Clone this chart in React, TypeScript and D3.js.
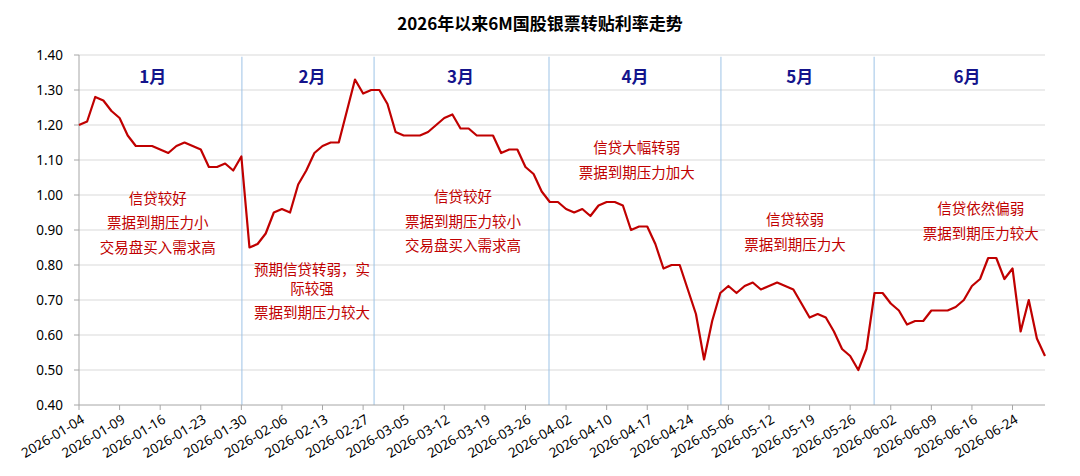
import React from "react";
import * as d3 from "d3";

const W = 1080;
const H = 476;

// 6M国股银票转贴利率, one value per trading day (index 0 = 2026-01-04)
const rates = [
  1.2, 1.21, 1.28, 1.27, 1.24, 1.22, 1.17, 1.14, 1.14, 1.14,
  1.13, 1.12, 1.14, 1.15, 1.14, 1.13, 1.08, 1.08, 1.09, 1.07,
  1.11, 0.85, 0.86, 0.89, 0.95, 0.96, 0.95, 1.03, 1.07, 1.12,
  1.14, 1.15, 1.15, 1.24, 1.33, 1.29, 1.3, 1.3, 1.26, 1.18,
  1.17, 1.17, 1.17, 1.18, 1.2, 1.22, 1.23, 1.19, 1.19, 1.17,
  1.17, 1.17, 1.12, 1.13, 1.13, 1.08, 1.06, 1.01, 0.98, 0.98,
  0.96, 0.95, 0.96, 0.94, 0.97, 0.98, 0.98, 0.97, 0.9, 0.91,
  0.91, 0.86, 0.79, 0.8, 0.8, 0.73, 0.66, 0.53, 0.64, 0.72,
  0.74, 0.72, 0.74, 0.75, 0.73, 0.74, 0.75, 0.74, 0.73, 0.69,
  0.65, 0.66, 0.65, 0.61, 0.56, 0.54, 0.5, 0.56, 0.72, 0.72,
  0.69, 0.67, 0.63, 0.64, 0.64, 0.67, 0.67, 0.67, 0.68, 0.7,
  0.74, 0.76, 0.82, 0.82, 0.76, 0.79, 0.61, 0.7, 0.59, 0.54,
];

// one label every 5 trading days
const tickLabels = [
  "2026-01-04", "2026-01-09", "2026-01-16", "2026-01-23", "2026-01-30",
  "2026-02-06", "2026-02-13", "2026-02-27", "2026-03-05", "2026-03-12",
  "2026-03-19", "2026-03-26", "2026-04-02", "2026-04-10", "2026-04-17",
  "2026-04-24", "2026-05-06", "2026-05-12", "2026-05-19", "2026-05-26",
  "2026-06-02", "2026-06-09", "2026-06-16", "2026-06-24",
];
const tickStep = 5;

const yTicks = [0.4, 0.5, 0.6, 0.7, 0.8, 0.9, 1.0, 1.1, 1.2, 1.3, 1.4];

// month separators, in trading-day index
const monthBreaks = [20.07, 36.35, 57.9, 79.08, 97.95];
const months = ["1月", "2月", "3月", "4月", "5月", "6月"];
const monthPos = [9.1, 28.7, 47.0, 68.5, 88.8, 109.4];

const notes = [
  ["信贷较好", "票据到期压力小", "交易盘买入需求高"],
  ["预期信贷转弱，实", "际较强", "票据到期压力较大"],
  ["信贷较好", "票据到期压力较小", "交易盘买入需求高"],
  ["信贷大幅转弱", "票据到期压力加大"],
  ["信贷较弱", "票据到期压力大"],
  ["信贷依然偏弱", "票据到期压力较大"],
];
const noteAt = [
  { i: 9.7, v: 0.989 },
  { i: 28.7, v: 0.786 },
  { i: 47.3, v: 0.994 },
  { i: 68.7, v: 1.134 },
  { i: 88.2, v: 0.929 },
  { i: 111.1, v: 0.96 },
];
const noteGaps = [
  [0, 24.5, 49],
  [0, 19, 43],
  [0, 24.5, 49],
  [0, 25],
  [0, 25],
  [0, 25],
];

const margin = { top: 55, right: 35, bottom: 71, left: 79 };
const font = "'Noto Sans', 'Noto Sans CJK SC', sans-serif";
const cjk = "'Noto Sans CJK SC', sans-serif";

export default function App() {
  const x = d3
    .scaleLinear()
    .domain([0, rates.length - 1])
    .range([margin.left, W - margin.right]);
  const y = d3
    .scaleLinear()
    .domain([0.4, 1.4])
    .range([H - margin.bottom, margin.top]);

  const line = d3
    .line<number>()
    .x((_, i) => x(i))
    .y((d) => y(d));

  const y0 = y(0.4);

  return (
    <div style={{ position: "fixed", left: 0, top: 0 }}>
      <svg width={W} height={H} style={{ display: "block", background: "#fff" }}>
        <text
          x={W / 2}
          y={30}
          textAnchor="middle"
          fontFamily={cjk}
          fontWeight="bold"
          fontSize={17}
          fill="#000"
        >
          2026年以来6M国股银票转贴利率走势
        </text>

        {/* gridlines */}
        {yTicks.slice(1).map((t) => (
          <line
            key={t}
            x1={margin.left}
            x2={W - margin.right}
            y1={y(t)}
            y2={y(t)}
            stroke="#d9d9d9"
            strokeWidth={1}
          />
        ))}

        {/* month separators */}
        {monthBreaks.map((b) => (
          <line
            key={b}
            x1={x(b)}
            x2={x(b)}
            y1={y(1.395)}
            y2={y0}
            stroke="#9dc3e6"
            strokeWidth={1}
          />
        ))}

        {/* y axis */}
        <line x1={margin.left} x2={margin.left} y1={y(1.4)} y2={y0} stroke="#a6a6a6" />
        {yTicks.map((t) => (
          <g key={t}>
            <line x1={margin.left - 5} x2={margin.left} y1={y(t)} y2={y(t)} stroke="#a6a6a6" />
            <text
              x={margin.left - 16}
              y={y(t)}
              dy="0.35em"
              textAnchor="end"
              fontFamily={font}
              fontSize={13.5}
              fill="#000"
            >
              {d3.format(".2f")(t)}
            </text>
          </g>
        ))}

        {/* x axis */}
        <line x1={margin.left} x2={W - margin.right} y1={y0} y2={y0} stroke="#a6a6a6" />
        {tickLabels.map((lab, k) => {
          const tx = x(k * tickStep);
          return (
            <g key={lab}>
              <line x1={tx} x2={tx} y1={y0} y2={y0 + 5} stroke="#a6a6a6" />
              <text
                transform={`translate(${tx + 4},${y0 + 13}) rotate(-31)`}
                textAnchor="end"
                dy="0.35em"
                fontFamily={font}
                fontSize={13.5}
                fill="#000"
              >
                {lab}
              </text>
            </g>
          );
        })}

        {/* series */}
        <path d={line(rates) || ""} fill="none" stroke="#c00000" strokeWidth={2.2} strokeLinejoin="round" />

        {/* month labels */}
        {months.map((m, k) => (
          <text
            key={m}
            x={x(monthPos[k])}
            y={y(1.337)}
            dy="0.35em"
            textAnchor="middle"
            fontFamily={cjk}
            fontWeight="bold"
            fontSize={17}
            fill="#14148c"
          >
            {m}
          </text>
        ))}

        {/* notes */}
        {notes.map((lines, k) => (
          <g key={k}>
            {lines.map((s, j) => (
              <text
                key={j}
                x={x(noteAt[k].i)}
                y={y(noteAt[k].v) + noteGaps[k][j]}
                dy="0.35em"
                textAnchor="middle"
                fontFamily={cjk}
                fontSize={14.5}
                fill="#c00000"
              >
                {s}
              </text>
            ))}
          </g>
        ))}
      </svg>
    </div>
  );
}
